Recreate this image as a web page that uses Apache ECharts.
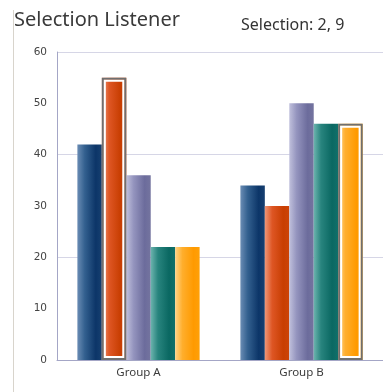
<!DOCTYPE html>
<html>
<head>
<meta charset="utf-8">
<script src="https://cdn.jsdelivr.net/npm/echarts@6/dist/echarts.min.js"></script>
<style>
  html, body { margin: 0; padding: 0; background: #fff; }
  #chart { width: 383px; height: 392px; }
</style>
</head>
<body>
<div id="chart"></div>
<script>
// Categories and series values
const categories = ['Group A', 'Group B'];
const series1 = [42, 34];
const series2 = [55, 30];
const series3 = [36, 50];
const series4 = [22, 46];
const series5 = [22, 46];
const yTicks = [0, 10, 20, 30, 40, 50, 60];
// Selected items: [categoryIndex, seriesIndex]
const selectedItems = [[0, 1], [1, 4]];
const selectionText = 'Selection: 2, 9';

const allSeries = [series1, series2, series3, series4, series5];

// Horizontal gradient stops for each series (light left edge, dark right)
const palettes = [
  ['#6a8cb4', '#33608f', '#0c3568', '#163f70'],
  ['#ee9678', '#de5624', '#c83e02', '#cc4408'],
  ['#c0c0dc', '#9494be', '#6c6c9c', '#74749f'],
  ['#6cb4ae', '#28847e', '#0a6862', '#10706a'],
  ['#ffd488', '#ffae2c', '#ff9a00', '#ffa008']
];
function grad(p) {
  return new echarts.graphic.LinearGradient(0, 0, 1, 0, [
    { offset: 0, color: p[0] },
    { offset: 0.3, color: p[1] },
    { offset: 0.75, color: p[2] },
    { offset: 1, color: p[3] }
  ]);
}

const chart = echarts.init(document.getElementById('chart'), null, { renderer: 'canvas' });

const GROUP_RATIO = 0.75;
const barSeries = allSeries.map((vals, i) => ({
  type: 'bar',
  data: vals,
  barGap: 0,
  barCategoryGap: '25%',
  itemStyle: { color: grad(palettes[i]) },
  silent: true,
  z: 2
}));

// Outline frames around the selected bars
const outlineData = selectedItems.map(([c, s]) => [c, s, allSeries[s][c]]);
const outlineSeries = {
  type: 'custom',
  data: outlineData,
  z: 5,
  silent: true,
  renderItem: function (params, api) {
    const cat = api.value(0), idx = api.value(1), val = api.value(2);
    const top = api.coord([cat, val]);
    const base = api.coord([cat, 0]);
    const band = api.size([1, 0])[0];
    const groupW = band * GROUP_RATIO;
    const barW = groupW / allSeries.length;
    const x = top[0] - groupW / 2 + idx * barW;
    const y = top[1];
    const h = base[1] - top[1];
    return {
      type: 'group',
      children: [
        { type: 'rect', shape: { x: x + 1, y: y + 1, width: barW - 2, height: h - 2 },
          style: { fill: null, stroke: '#6f6f6f', lineWidth: 2 } },
        { type: 'rect', shape: { x: x + 3, y: y + 3, width: barW - 6, height: h - 6 },
          style: { fill: null, stroke: '#ffffff', lineWidth: 2 } }
      ]
    };
  }
};

chart.setOption({
  animation: false,
  backgroundColor: '#ffffff',
  textStyle: { fontFamily: 'Noto Sans' },
  title: [
    { text: 'Selection Listener', left: 9, top: 5,
      textStyle: { fontFamily: 'Noto Sans', fontSize: 20, fontWeight: 'normal', color: '#3a3a3a' } },
    { text: selectionText, left: 236, top: 12,
      textStyle: { fontFamily: 'Noto Sans', fontSize: 16, fontWeight: 'normal', color: '#333333' } }
  ],
  graphic: [
    { type: 'line', shape: { x1: 13.5, y1: 10, x2: 13.5, y2: 392 },
      style: { stroke: '#d8d4cc', lineWidth: 1 }, z: 1 }
  ],
  grid: { left: 57, right: -7, top: 52, bottom: 32, containLabel: false },
  xAxis: {
    type: 'category',
    data: categories,
    axisLine: { lineStyle: { color: '#a4a6c6', width: 1 } },
    axisTick: { show: false },
    axisLabel: { color: '#3c3c3c', fontSize: 11.5, fontFamily: 'Noto Sans', margin: 7 },
    splitLine: { show: false }
  },
  yAxis: [
    {
      type: 'value',
      min: yTicks[0],
      max: yTicks[yTicks.length - 1],
      interval: 10,
      axisLine: { show: true, lineStyle: { color: '#a4a6c6', width: 1 } },
      axisTick: { show: false },
      axisLabel: { color: '#444444', fontSize: 10.5, fontFamily: 'DejaVu Sans', margin: 10 },
      splitLine: { show: false }
    },
    {
      type: 'value',
      min: yTicks[0],
      max: yTicks[yTicks.length - 1],
      interval: 20,
      position: 'left',
      axisLine: { show: false },
      axisTick: { show: false },
      axisLabel: { show: false },
      splitLine: { show: true, lineStyle: { color: '#d6d6e6', width: 1 } }
    }
  ],
  series: barSeries.concat([outlineSeries])
});
</script>
</body>
</html>
